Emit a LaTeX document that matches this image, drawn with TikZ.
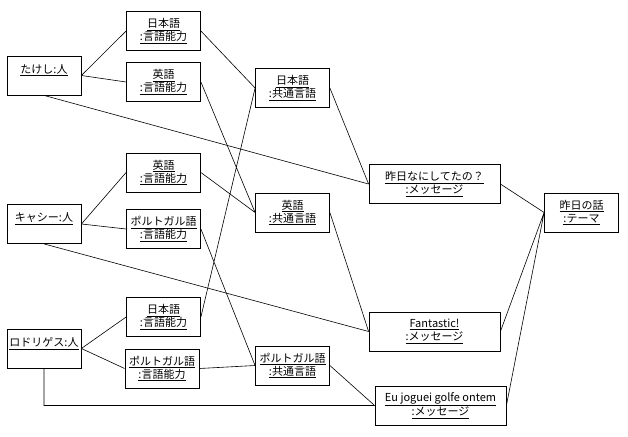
\documentclass[tikz,border=0pt]{standalone}
\usepackage{fontspec}
\setmainfont{Noto Sans CJK JP}

\begin{document}
\begin{tikzpicture}[x=1pt,y=-1pt]
	\tikzstyle{obj}=[draw, line width=0.8pt, minimum width=74pt, minimum height=39pt, inner sep=1pt, align=center, font=\fontsize{11}{13}\selectfont]
	\tikzstyle{msg}=[obj, minimum width=131pt]
	\tikzstyle{link}=[line width=0.6pt]
	\useasboundingbox (0,0) rectangle (628,436);
	% people
	\node[obj]	(takeshi)	at (44,75.5)	{\underline{たけし:人}\\ \mbox{}};
	\node[obj]	(cathy)		at (44,224)	{\underline{キャシー:人}\\ \mbox{}};
	\node[obj]	(rodrigues)	at (44,348.5)	{\underline{ロドリゲス:人}\\ \mbox{}};
	% language abilities
	\node[obj]	(jpA)	at (163.5,31)	{\underline{日本語}\\ \underline{:言語能力}};
	\node[obj]	(enA)	at (163.5,82)	{\underline{英語}\\ \underline{:言語能力}};
	\node[obj]	(enB)	at (163.5,172.5)	{\underline{英語}\\ \underline{:言語能力}};
	\node[obj]	(ptA)	at (163.5,229)	{\underline{ポルトガル語}\\ \underline{:言語能力}};
	\node[obj]	(jpB)	at (163.5,317)	{\underline{日本語}\\ \underline{:言語能力}};
	\node[obj]	(ptB)	at (162,368.5)	{\underline{ポルトガル語}\\ \underline{:言語能力}};
	% common languages
	\node[obj]	(jpC)	at (292.5,88)	{\underline{日本語}\\ \underline{:共通言語}};
	\node[obj]	(enC)	at (292.5,212.5)	{\underline{英語}\\ \underline{:共通言語}};
	\node[obj]	(ptC)	at (292.5,365.5)	{\underline{ポルトガル語}\\ \underline{:共通言語}};
	% messages
	\node[msg]	(msgA)	at (434.5,184)	{\underline{昨日なにしてたの？}\\ \underline{:メッセージ}};
	\node[msg]	(msgB)	at (434.5,331.5)	{\underline{Fantastic!}\\ \underline{:メッセージ}};
	\node[msg]	(msgC)	at (440.5,405.5)	{\underline{Eu joguei golfe ontem}\\ \underline{:メッセージ}};
	% theme
	\node[obj]	(theme)	at (581.5,212.5)	{\underline{昨日の話}\\ \underline{:テーマ}};
	% links
	\draw[link]	(takeshi.east) -- (jpA.west)
		(takeshi.east) -- (enA.west)
		(takeshi.south) -- (msgA.west)
		(cathy.east) -- (enB.west)
		(cathy.east) -- (ptA.west)
		(cathy.south) -- (msgB.west)
		(rodrigues.east) -- (jpB.west)
		(rodrigues.east) -- (ptB.west)
		(rodrigues.south) |- (msgC.west);
	\draw[link]	(jpA.east) -- (jpC.west)
		(jpB.east) -- (jpC.west)
		(enA.east) -- (enC.west)
		(enB.east) -- (enC.west)
		(ptA.east) -- (ptC.west)
		(ptB.east) -- (ptC.west);
	\draw[link]	(jpC.east) -- (msgA.west)
		(enC.east) -- (msgB.west)
		(ptC.east) -- (msgC.west)
		(msgA.east) -- (theme.west)
		(msgB.east) -- (theme.west)
		(msgC.east) -- (theme.west);
\end{tikzpicture}
\end{document}
